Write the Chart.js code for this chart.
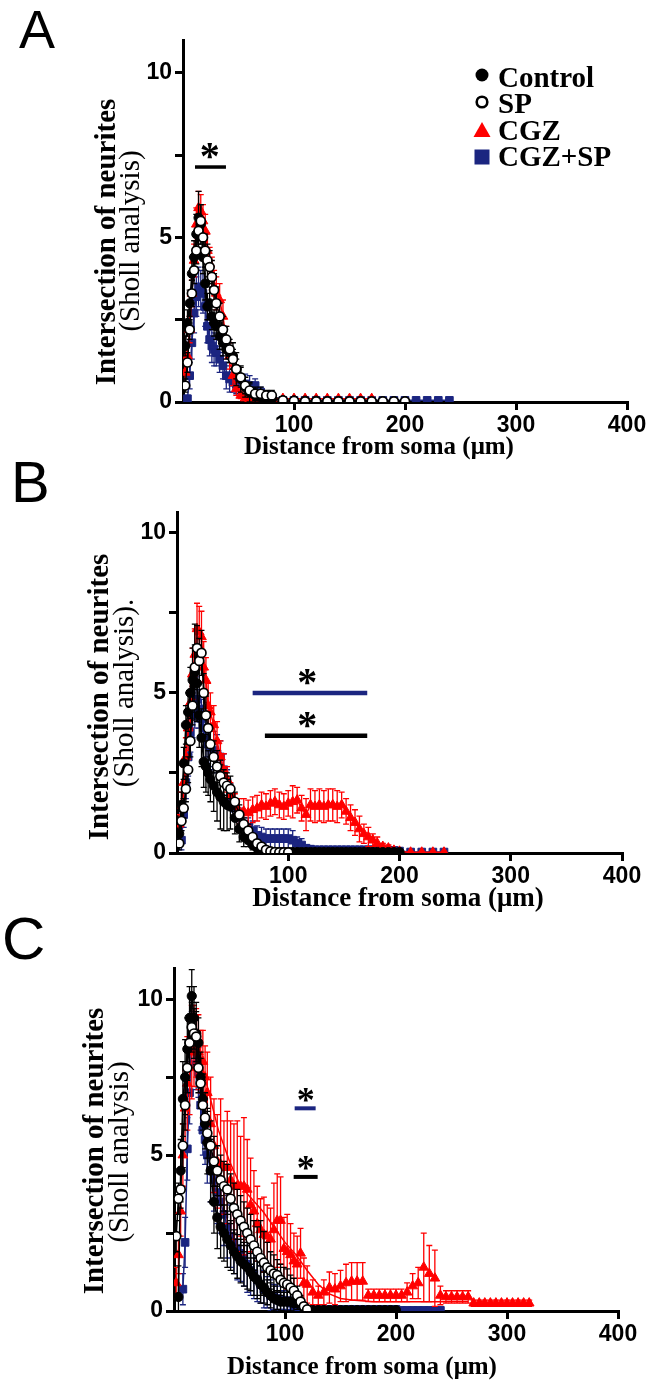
<!DOCTYPE html>
<html>
<head>
<meta charset="utf-8">
<script src="https://cdn.jsdelivr.net/npm/chart.js@4.4.1/dist/chart.umd.min.js"></script>
<style>
  html, body { margin: 0; padding: 0; background: #fff; }
  #page { position: relative; width: 653px; height: 1391px; overflow: hidden; background: #fff; }
  #page canvas { position: absolute; left: 0; }
</style>
</head>
<body>
<div id="page">
  <canvas id="chartA" width="653" height="470" style="top:0px;width:653px;height:470px"></canvas>
  <canvas id="chartB" width="653" height="470" style="top:450px;width:653px;height:470px"></canvas>
  <canvas id="chartC" width="653" height="486" style="top:905px;width:653px;height:486px"></canvas>
</div>
<script>
// ---- data (distance from soma in um, intersections, SEM) ----
const xTicks = [100, 200, 300, 400];
const yTicks = [0, 2.5, 5, 7.5, 10];
const yLabelled = [0, 5, 10];

// Panel A
const distA = [2,4,6,8,10,12,14,16,18,20,22,24,26,28,30,33,36,39,42,45,48,52,56,60,65,70,75,80,90,100,110,120,130,140,150,160,170,180,190,200,210,220,230,240];
const ctrlA = [1.7,2.4,3.0,3.9,4.4,5.1,5.6,5.4,4.4,3.6,2.9,3.0,2.6,2.4,2.3, 2.0,1.8,1.6,1.5,1.4,1.0, 0.7,0.45,0.3, 0.2,0.15,0.1,0.08, 0.05,0.05,0.04,0.04,0.03,0.03,0.03,0.03,0.02,0.02,0.02,0.02,null,null,null,null];
const errCtrlA = [0.3,0.4,0.4,0.5,0.5,0.6,0.8,0.6,0.5,0.5,0.4,0.5,0.4,0.4,0.4, 0.4,0.4,0.3,0.3,0.4,0.5, 0.4,0.3,0.3, 0.2,0.15,0.1,0.05, 0.05,0.05,0.05,0.05,0.05,0.05,0.05,0.05,0.05,0.05,0.05,0.05,0,0,0,0];
const spA = [0.5,1.2,2.2,3.3,4.0,4.6,5.2,5.5,5.0,4.6,4.3,4.1,3.8,3.4,3.0, 2.6,2.2,1.9,1.6,1.3,1.0, 0.75,0.5,0.35, 0.25,0.25,0.2,0.2, 0.05,0.03,0.02,0.02,0.02,0.02,0.02,0.02,0.02,0.02,0.02,0.02,null,null,null,null];
const errSpA = [0.2,0.3,0.3,0.4,0.4,0.4,0.5,0.5,0.5,0.5,0.5,0.5,0.5,0.5,0.5, 0.4,0.4,0.4,0.3,0.3,0.3, 0.3,0.25,0.2, 0.2,0.2,0.15,0.15, 0.05,0.05,0.05,0.05,0.05,0.05,0.05,0.05,0.05,0.05,0.05,0.05,0,0,0,0];
const cgzA = [0.9,1.4,2.2,3.3,4.3,5.4,5.9,5.8,5.5,5.2,4.6,4.2,3.9,3.5,3.3, 3.1,2.6,1.9,1.4,0.8,0.4, 0.2,0.12,0.1, 0.1,0.1,0.1,0.1, 0.1,0.1,0.1,0.1,0.1,0.1,0.1,0.1,0.1,null,null,null,null,null,null,null];
const errCgzA = [0.3,0.3,0.4,0.4,0.5,0.5,0.5,0.5,0.5,0.5,0.5,0.5,0.5,0.5,0.5, 0.5,0.5,0.4,0.4,0.3,0.2, 0.1,0.05,0.05, 0.05,0.05,0.05,0.05, 0.05,0.05,0.05,0.05,0.05,0.05,0.05,0.05,0.05,0,0,0,0,0,0,0];
const cgzSpA = [null,0.1,0.8,1.8,2.7,3.2,3.5,3.4,3.3,2.9,2.3,1.9,1.7,1.6,1.5, 1.3,1.1,0.8,0.7,0.6,0.55, 0.55,0.55,0.5, 0.5,0.3,0.15,0.08, 0.05,0.05,0.05,0.05,0.05,0.05,0.05,0.05,0.05,0.05,0.05,0.05,0.05,0.05,0.05,0.05];
const errCgzSpA = [0,0.1,0.4,0.5,0.6,0.6,0.6,0.6,0.6,0.6,0.5,0.5,0.5,0.5,0.4, 0.4,0.4,0.4,0.4,0.3,0.3, 0.3,0.3,0.3, 0.2,0.15,0.1,0.05, 0.03,0.03,0.03,0.03,0.03,0.03,0.03,0.03,0.03,0.03,0.03,0.03,0.03,0.03,0.03,0.03];

// Panel B
const distB = [2,4,6,8,10,12,14,16,18,20,22,24,26,28,30,33,36,39,42,45,48,52,56,60,64,68,72,76,80,84,88,92,96,100,104,108,112,116,120,124,128,132,136,140,144,148,152,156,160,164,168,172,176,180,185,190,195,200,210,220,230,240];
const ctrlB = [0.6,1.5,2.8,4.0,4.4,5.0,5.4,5.65,5.3,4.3,3.6,2.85,2.7,2.5,2.3, 2.1,1.9,1.75,1.6,1.5,1.45, 1.1,0.75,0.5, 0.4,0.25,0.15,0.1,0.05, 0.03,0.03,0.03,0.03,0.03,0.03,0.03,0.03,0.03,0.03,0.03,0.03,0.03,0.03,0.03,0.03,0.03,0.03,0.03,0.03,0.03,0.03,0.03,0.03,0.03, 0.03,0.03,0.03,0.03, null,null,null,null];
const errCtrlB = [0.3,0.4,0.5,0.6,0.6,0.8,1.0,1.5,1.2,1.0,0.9,0.8,0.8,0.7,0.7, 0.8,0.9,1.0,0.9,0.8,0.7, 0.5,0.4,0.3, 0.2,0.15,0.1,0.05,0.05, 0.02,0.02,0.02,0.02,0.02,0.02,0.02,0.02,0.02,0.02,0.02,0.02,0.02,0.02,0.02,0.02,0.02,0.02,0.02,0.02,0.02,0.02,0.02,0.02,0.02, 0.02,0.02,0.02,0.02, 0,0,0,0];
const spB = [0.3,1.0,1.4,2.0,2.6,3.5,4.6,5.8,6.4,6.0,6.25,5.0,4.3,3.9,3.4, 3.0,2.7,2.4,2.2,2.1,2.0, 1.6,1.2,0.9, 0.7,0.5,0.3,0.2,0.1, 0.05,0.03,0.02,0.02,0.02, null,null,null,null,null,null,null,null,null,null,null,null,null,null,null,null,null,null,null,null, null,null,null,null, null,null,null,null];
const errSpB = [0.2,0.3,0.3,0.4,0.4,0.5,0.6,0.7,0.7,0.7,0.7,0.6,0.6,0.5,0.5, 0.5,0.5,0.5,0.4,0.4,0.4, 0.3,0.3,0.2, 0.2,0.1,0.1,0.05,0.05, 0.02,0.02,0.02,0.02,0.02];
const cgzB = [0.9,1.5,2.2,3.0,3.9,4.7,5.6,6.2,7.0,6.9,6.75,5.8,5.4,4.6,4.4, 4.0,3.5,3.0,2.6,2.3,1.8, 1.45,1.3,1.3, 1.25,1.35,1.4,1.5,1.45,1.55,1.6,1.5,1.45,1.55,1.6,1.65,1.4,1.2,1.5,1.45,1.5,1.45,1.5,1.5,1.45,1.5,1.3,1.1,0.95,0.75,0.6,0.5,0.4,0.3, 0.2,0.15,0.08,0.05, 0.02,0.02,0.02,0.02];
const errCgzB = [0.3,0.4,0.5,0.6,0.7,0.8,0.8,0.8,0.8,0.8,0.8,0.8,0.7,0.7,0.6, 0.6,0.6,0.5,0.5,0.4,0.4, 0.4,0.4,0.4, 0.4,0.4,0.4,0.4,0.4,0.4,0.4,0.4,0.4,0.4,0.5,0.4,0.4,0.5,0.5,0.5,0.5,0.5,0.5,0.5,0.5,0.4,0.4,0.4,0.4,0.4,0.3,0.3,0.2,0.2, 0.1,0.1,0.05,0.05, 0.02,0.02,0.02,0.02];
const cgzSpB = [null,0.4,1.2,2.2,3.0,3.75,4.3,4.6,4.8,4.5,4.2,3.9,3.6,3.4,3.3, 3.2,3.1,3.0,2.6,2.2,1.75, 1.4,1.1,0.9, 0.8,0.7,0.55,0.5,0.45,0.45,0.45,0.45,0.45,0.45,0.4,0.3,0.25,0.15,0.12,0.1,0.1,0.1,0.1,0.1,0.1,0.1,0.1,0.1,0.1,0.1,0.1,0.1,0.1,0.1, 0.08,0.08,0.08,0.06, 0.03,0.03,0.03,0.03];
const errCgzSpB = [0,0.3,0.4,0.5,0.6,0.6,0.7,0.7,0.7,0.6,0.6,0.6,0.6,0.6,0.6, 0.6,0.6,0.5,0.5,0.4,0.4, 0.3,0.3,0.3, 0.3,0.3,0.3,0.3,0.3,0.3,0.3,0.3,0.3,0.3,0.3,0.2,0.2,0.1,0.1,0.05,0.05,0.05,0.05,0.05,0.05,0.05,0.05,0.05,0.05,0.05,0.05,0.05,0.05,0.05, 0.03,0.03,0.03,0.03, 0.02,0.02,0.02,0.02];

// Panel C
const distC = [2,4,6,8,10,12,14,16,18,20,22,24,26,28,30,
  33,36,39,42,45,48,51,54,57,60,63,66,69,72,75,78,81,84,87,90,93,96,99,102,105,108,111,114,117,120,
  125,130,135,140,145,150,155,160,165,170,175,180,185,190,195,200,205,210,215,220,225,230,235,240,245,250,255,260,265,270,275,280,285,290,295,300,305,310,315,320];
const ctrlC = [null,0.45,4.5,6.8,7.5,8.4,9.4,10.1,9.4,8.9,8.6,7.5,6.8,6.0,5.4,
  4.5,3.5,3.0,2.7,2.5,2.3,2.1,1.9,1.75,1.6,1.5,1.4,1.25,1.1,1.0,0.85,0.75,0.6,0.5,0.4,0.35,0.3,0.3,0.3,0.3,0.25,0.25,0.25,0.1,0.05,
  0.03,0.03,0.03,0.03,0.03,0.03,0.03,0.03,0.03,0.03,0.03,0.03,0.03,0.03,0.03,0.03];
const errCtrlC = [0,1.0,1.0,1.2,1.2,1.0,1.0,0.85,1.0,1.0,0.8,0.8,0.8,0.8,1.0,
  1.0,1.0,1.0,1.0,0.9,0.9,0.8,0.7,0.7,0.7,0.7,0.7,0.6,0.6,0.6,0.6,0.5,0.4,0.4,0.4,0.3,0.3,0.3,0.5,0.3,0.3,0.2,0.2,0.1,0.05,
  0.02,0.02,0.02,0.02,0.02,0.02,0.02,0.02,0.02,0.02,0.02,0.02,0.02,0.02,0.02,0.02];
const spC = [2.4,3.6,3.9,5.3,6.6,7.8,8.6,9.1,8.9,8.8,7.8,7.3,6.6,6.2,5.7,
  5.3,4.8,4.5,4.2,4.0,3.9,3.6,3.3,3.1,2.9,2.7,2.5,2.3,2.1,1.9,1.7,1.55,1.4,1.3,1.2,1.15,1.0,0.9,0.85,0.75,0.65,0.5,0.3,0.15,0.05];
const errSpC = [0.5,0.5,0.6,0.7,0.8,0.8,0.8,0.8,0.8,0.8,0.8,0.8,0.8,0.8,0.8,
  0.8,0.8,0.8,0.8,0.8,0.8,0.8,0.8,0.8,0.8,0.8,0.8,0.8,0.8,0.8,1.2,1.0,0.8,0.6,0.6,0.5,0.5,0.5,0.5,0.4,0.4,0.3,0.2,0.1,0.05];
const cgzC = [0.9,1.8,3.2,5.0,6.5,7.3,7.8,8.3,8.5,8.6,8.3,8.0,8.0,7.5,7.0,
  6.0,5.3,4.8,4.7,4.6,4.6,4.2,4.0,4.0,4.0,4.0,3.9,3.4,3.2,2.8,2.6,2.45,2.4,2.3,2.6,2.9,2.9,2.0,1.9,1.8,1.6,1.5,1.85,0.9,0.85,
  0.6,0.5,0.6,0.75,0.7,0.8,0.9,0.95,0.95,0.95, 0.5,0.5,0.5,0.5,0.5,0.5,0.5,0.6,0.8,0.9,
  1.4,1.2,1.05,0.5,0.45,0.45,0.45,0.45,0.45,0.25, 0.25,0.25,0.25,0.25,0.25,0.25,0.25,0.25,0.25,0.25];
const errCgzC = [0.5,0.6,0.8,1.0,1.2,1.5,1.5,1.5,1.3,1.1,1.2,1.0,1.0,1.0,1.3,
  1.5,1.5,1.5,2.1,1.5,1.8,1.9,2.0,2.1,1.6,2.2,1.6,1.5,1.3,1.2,1.0,1.2,1.0,1.0,1.5,1.5,1.4,1.0,1.2,1.0,0.9,0.9,0.8,0.8,0.6,
  0.4,0.3,0.4,0.5,0.5,0.5,0.6,0.6,0.6,0.6, 0.2,0.2,0.2,0.2,0.2,0.2,0.2,0.3,0.4,0.5,
  1.1,0.9,0.9,0.3,0.2,0.2,0.2,0.2,0.2,0.1, 0.1,0.1,0.1,0.1,0.1,0.1,0.1,0.1,0.1,0.1];
const cgzSpC = [null,null,null,0.7,2.2,5.2,7.0,8.8,8.7,7.9,7.65,6.6,5.8,5.5,5.0,
  4.5,4.2,3.8,3.5,3.1,2.7,2.4,2.2,2.0,1.85,1.7,1.5,1.3,1.2,1.0,0.85,0.7,0.6,0.5,0.45,0.4,0.35,0.35,0.3,0.25,0.2,0.15,0.1,0.08,0.05,
  0.05,0.05,0.05,0.05,0.05,0.05,0.05,0.05,0.05,0.05,0.05,0.05,0.05,0.05,0.05,0.05, 0.02,0.02,0.02,0.02,0.02,0.02,0.02,0.02];
const errCgzSpC = [0,0,0,0.5,0.8,1.0,1.0,0.8,0.8,0.8,0.8,0.8,0.8,0.8,0.9,
  1.0,1.0,1.0,1.0,1.0,1.0,1.0,1.0,1.0,0.9,0.9,0.9,0.8,0.8,0.7,0.6,0.6,0.5,0.5,0.4,0.4,0.3,0.3,0.3,0.2,0.2,0.2,0.1,0.1,0.05,
  0.03,0.03,0.03,0.03,0.03,0.03,0.03,0.03,0.03,0.03,0.03,0.03,0.03,0.03,0.03,0.03, 0.02,0.02,0.02,0.02,0.02,0.02,0.02,0.02];
// smooth CGZ curve drawn through panel C
const fitDistC = [20,30,40,50,60,70,80,90,100,110,120,130,140,150,160,180,220,265];
const fitCgzC = [8.6,7.2,5.8,4.8,4.0,3.6,3.2,2.7,2.2,1.8,1.3,0.85,0.55,0.4,0.35,0.3,0.3,0.3];

const seriesNames = ['Control', 'SP', 'CGZ', 'CGZ+SP'];

// ---- styles ----
const RED = '#ff0000';
const NAVY = '#1b2580';
const SERIF = '"Liberation Serif", "Times New Roman", serif';

function hasFont(name) {
  const c = document.createElement('canvas').getContext('2d');
  c.font = 'bold 40px monospace';
  const w0 = c.measureText('100 Wg').width;
  c.font = 'bold 40px "' + name + '", monospace';
  return c.measureText('100 Wg').width !== w0;
}
const tickFont = hasFont('Liberation Sans Narrow')
  ? { family: '"Liberation Sans Narrow"', size: 27, weight: 'bold' }
  : { family: '"Liberation Sans", Arial, sans-serif', size: 23, weight: 'bold' };

const STYLE = {
  'Control': { pointStyle: 'circle', pointRadius: 4.6, pointBackgroundColor: '#000', pointBorderColor: '#000', pointBorderWidth: 1, borderColor: '#000', errColor: '#000' },
  'SP': { pointStyle: 'circle', pointRadius: 4.5, pointBackgroundColor: '#fff', pointBorderColor: '#000', pointBorderWidth: 1.7, borderColor: '#000', errColor: '#000' },
  'CGZ': { pointStyle: 'triangle', pointRadius: 5.6, pointBackgroundColor: RED, pointBorderColor: RED, pointBorderWidth: 1, borderColor: RED, errColor: RED },
  'CGZ+SP': { pointStyle: 'rect', pointRadius: 5.4, pointBackgroundColor: NAVY, pointBorderColor: NAVY, pointBorderWidth: 1, borderColor: NAVY, errColor: NAVY }
};

function series(name, dist, vals, errs, extra) {
  const pts = [];
  dist.forEach((d, i) => {
    if (vals[i] === null || vals[i] === undefined) return;
    pts.push({ x: d, y: vals[i], e: (errs && errs[i]) || 0 });
  });
  return Object.assign({ label: name, data: pts, showLine: true, borderWidth: 1.5, tension: 0 }, STYLE[name], extra || {});
}

// ---- panel layout ----
const PANEL_A = { h: 470, left: 183, right: 627, top: 40, bottom: 402, yMax: 11,
  letter: 'A', letterX: 19, letterY: 48, letterSize: 54,
  xTitleX: 379, xTitleY: 454, xTitleSize: 25,
  yBoldX: 115, yBoldY: 242, yRegX: 139, yRegY: 241, yReg: '(Sholl analysis)', legend: true,
  marks: [{ x0: 10.8, x1: 38.7, y: 7.14, starX: 24, color: '#000', w: 3.5, star: 40 }] };
const PANEL_B = { h: 470, left: 177, right: 622, top: 62, bottom: 403, yMax: 10.65,
  letter: 'B', letterX: 11, letterY: 52, letterSize: 58,
  xTitleX: 398, xTitleY: 456, xTitleSize: 27,
  yBoldX: 108, yBoldY: 247, yRegX: 133, yRegY: 243, yReg: '(Sholl analysis).',
  marks: [{ x0: 68, x1: 171, y: 5.0, starX: 117, color: NAVY, w: 4.5, star: 40 },
          { x0: 79, x1: 171, y: 3.66, starX: 117, color: '#000', w: 4.5, star: 40 }] };
const PANEL_C = { h: 486, left: 174, right: 618, top: 63, bottom: 406, yMax: 11,
  letter: 'C', letterX: 2, letterY: 54, letterSize: 60,
  xTitleX: 362, xTitleY: 469, xTitleSize: 25,
  yBoldX: 103, yBoldY: 246, yRegX: 128, yRegY: 247, yReg: '(Sholl analysis)',
  marks: [{ x0: 108.7, x1: 127.6, y: 6.5, starX: 118.6, color: NAVY, w: 4, star: 36 },
          { x0: 107.8, x1: 129.4, y: 4.3, starX: 118.6, color: '#000', w: 4, star: 36 }] };

function legendMarker(ctx, name, x, y) {
  ctx.save();
  if (name === 'Control') {
    ctx.fillStyle = '#000'; ctx.beginPath(); ctx.arc(x, y, 6.5, 0, Math.PI * 2); ctx.fill();
  } else if (name === 'SP') {
    ctx.fillStyle = '#fff'; ctx.strokeStyle = '#000'; ctx.lineWidth = 2.6;
    ctx.beginPath(); ctx.arc(x, y, 5.3, 0, Math.PI * 2); ctx.fill(); ctx.stroke();
  } else if (name === 'CGZ') {
    ctx.fillStyle = RED; ctx.beginPath();
    ctx.moveTo(x, y - 8); ctx.lineTo(x + 8.5, y + 7); ctx.lineTo(x - 8.5, y + 7); ctx.closePath(); ctx.fill();
  } else {
    ctx.fillStyle = NAVY; ctx.fillRect(x - 7.5, y - 7.5, 15, 15);
  }
  ctx.restore();
}

function decor(p) {
  return {
    id: 'decor',
    beforeDatasetDraw(chart, args) {
      const ds = chart.data.datasets[args.index];
      if (!ds.errColor) return;
      const ctx = chart.ctx, ys = chart.scales.y, a = chart.chartArea;
      ctx.save();
      ctx.beginPath(); ctx.rect(a.left, a.top - 20, a.right - a.left, a.bottom - a.top + 20); ctx.clip();
      ctx.strokeStyle = ds.errColor; ctx.lineWidth = 1.3;
      args.meta.data.forEach((el, i) => {
        const r = ds.data[i];
        if (!r || !r.e) return;
        const top = ys.getPixelForValue(r.y + r.e);
        const bot = ys.getPixelForValue(r.y - r.e);
        ctx.beginPath();
        ctx.moveTo(el.x, top); ctx.lineTo(el.x, bot);
        ctx.moveTo(el.x - 3, top); ctx.lineTo(el.x + 3, top);
        ctx.moveTo(el.x - 3, bot); ctx.lineTo(el.x + 3, bot);
        ctx.stroke();
      });
      ctx.restore();
    },
    afterDatasetsDraw(chart) {
      const ctx = chart.ctx, xs = chart.scales.x, ys = chart.scales.y;
      ctx.save();
      p.marks.forEach(m => {
        const y = ys.getPixelForValue(m.y);
        ctx.strokeStyle = m.color; ctx.lineWidth = m.w; ctx.lineCap = 'butt';
        ctx.beginPath(); ctx.moveTo(xs.getPixelForValue(m.x0), y); ctx.lineTo(xs.getPixelForValue(m.x1), y); ctx.stroke();
        ctx.fillStyle = '#000'; ctx.textAlign = 'center'; ctx.textBaseline = 'alphabetic';
        ctx.font = 'bold ' + m.star + 'px ' + SERIF;
        ctx.fillText('*', xs.getPixelForValue(m.starX), y + 2 + (40 - m.star) * 0.3);
      });
      ctx.restore();
    },
    afterDraw(chart) {
      const ctx = chart.ctx;
      ctx.save();
      ctx.fillStyle = '#000';
      // panel letter
      ctx.font = p.letterSize + 'px "Liberation Sans", Arial, sans-serif';
      ctx.textAlign = 'left'; ctx.textBaseline = 'alphabetic';
      ctx.fillText(p.letter, p.letterX, p.letterY);
      // x title
      ctx.font = 'bold ' + p.xTitleSize + 'px ' + SERIF;
      ctx.textAlign = 'center';
      ctx.fillText('Distance from soma (\u03bcm)', p.xTitleX, p.xTitleY);
      // y title, two lines
      ctx.save(); ctx.translate(p.yBoldX, p.yBoldY); ctx.rotate(-Math.PI / 2);
      ctx.font = 'bold 29px ' + SERIF; ctx.fillText('Intersection of neurites', 0, 0); ctx.restore();
      ctx.save(); ctx.translate(p.yRegX, p.yRegY); ctx.rotate(-Math.PI / 2);
      ctx.font = '29px ' + SERIF; ctx.fillText(p.yReg, 0, 0); ctx.restore();
      // legend
      if (p.legend) {
        const rows = [75, 102, 130, 157];
        const bases = [87, 113, 140, 166];
        ctx.font = 'bold 29px ' + SERIF; ctx.textAlign = 'left';
        seriesNames.forEach((n, i) => {
          legendMarker(ctx, n, 482, rows[i]);
          ctx.fillStyle = '#000';
          ctx.fillText(n, 498, bases[i]);
        });
      }
      ctx.restore();
    }
  };
}

function makeChart(id, p, datasets) {
  const axisGrid = { drawOnChartArea: false, color: '#000', lineWidth: 3, tickLength: 8 };
  return new Chart(document.getElementById(id), {
    type: 'scatter',
    data: { datasets },
    options: {
      responsive: false,
      animation: false,
      devicePixelRatio: 1,
      layout: { padding: { left: 0, top: p.top, right: 653 - p.right, bottom: 0 } },
      plugins: { legend: { display: false }, tooltip: { enabled: false } },
      scales: {
        x: {
          type: 'linear', min: 0, max: 400,
          afterFit: s => { s.height = p.h - p.bottom; },
          afterBuildTicks: s => { s.ticks = xTicks.map(v => ({ value: v })); },
          ticks: { color: '#000', font: tickFont, padding: 2, maxRotation: 0, autoSkip: false },
          grid: axisGrid,
          border: { color: '#000', width: 3 }
        },
        y: {
          type: 'linear', min: 0, max: p.yMax,
          afterFit: s => { s.width = p.left; },
          afterBuildTicks: s => { s.ticks = yTicks.map(v => ({ value: v })); },
          ticks: { color: '#000', font: tickFont, padding: 3, autoSkip: false,
                   callback: v => (yLabelled.includes(v) ? String(v) : '') },
          grid: axisGrid,
          border: { color: '#000', width: 3 }
        }
      }
    },
    plugins: [decor(p)]
  });
}

makeChart('chartA', PANEL_A, [
  series('SP', distA, spA, errSpA),
  series('Control', distA, ctrlA, errCtrlA),
  series('CGZ', distA, cgzA, errCgzA),
  series('CGZ+SP', distA, cgzSpA, errCgzSpA)
]);

makeChart('chartB', PANEL_B, [
  series('SP', distB, spB, errSpB),
  series('Control', distB, ctrlB, errCtrlB),
  series('CGZ', distB, cgzB, errCgzB),
  series('CGZ+SP', distB, cgzSpB, errCgzSpB)
]);

makeChart('chartC', PANEL_C, [
  series('SP', distC, spC, errSpC),
  series('Control', distC, ctrlC, errCtrlC),
  series('CGZ', distC, cgzC, errCgzC, { showLine: false }),
  Object.assign(series('CGZ', fitDistC, fitCgzC, null), { pointRadius: 0, errColor: null, label: 'CGZ fit' }),
  series('CGZ+SP', distC, cgzSpC, errCgzSpC)
]);
</script>
</body>
</html>
